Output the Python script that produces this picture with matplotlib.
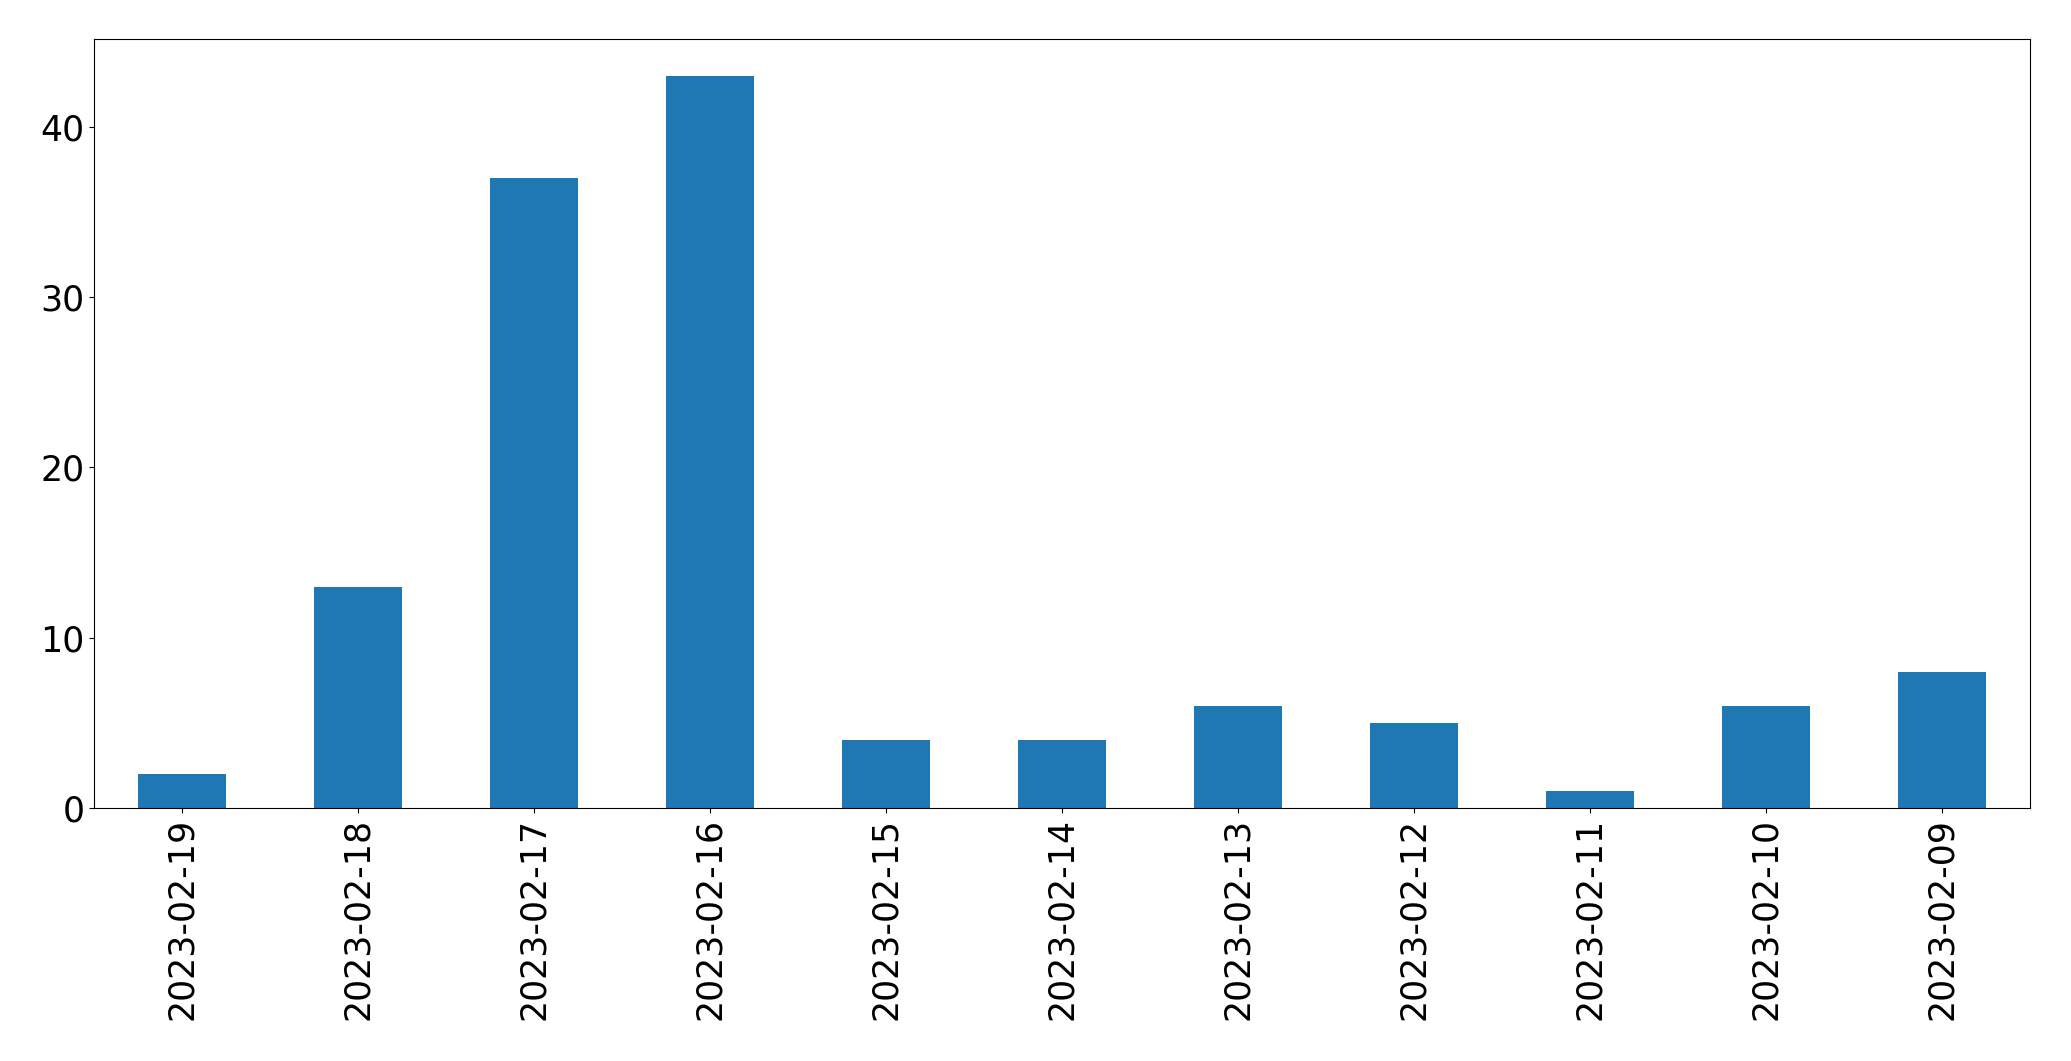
import matplotlib
matplotlib.use("Agg")
import matplotlib.pyplot as plt
import pandas as pd

# ── 数据 ──────────────────────────────────────────────────────────────────────
dates = ["2023-02-19", "2023-02-18", "2023-02-17", "2023-02-16", "2023-02-15",
         "2023-02-14", "2023-02-13", "2023-02-12", "2023-02-11", "2023-02-10",
         "2023-02-09"]
counts = [2, 13, 37, 43, 4, 4, 6, 5, 1, 6, 8]

s = pd.Series(counts, index=dates)

fig, ax = plt.subplots(figsize=(20.71, 10.61), dpi=100)
s.plot(kind="bar", ax=ax, color="#1f77b4", fontsize=25)
ax.set_yticks([0, 10, 20, 30, 40])
fig.subplots_adjust(left=0.0454, right=0.980, top=0.9632, bottom=0.2385)
fig.savefig("out.png", dpi=100)
